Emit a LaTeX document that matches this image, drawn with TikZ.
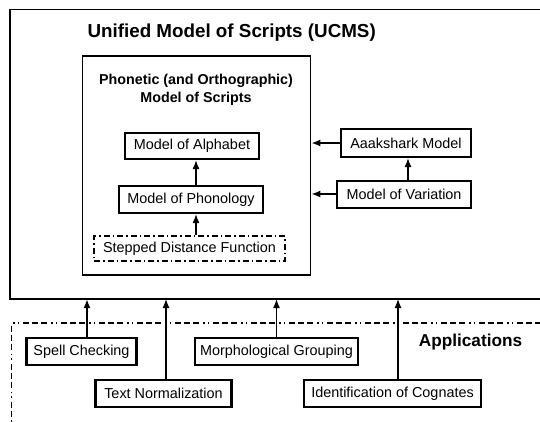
\documentclass[tikz,border=0pt]{standalone}
\usepackage{fontspec}
\setmainfont{Liberation Sans}
\usetikzlibrary{arrows.meta}
\begin{document}
\begin{tikzpicture}[x=1pt,y=-1pt,
  box/.style={draw,line width=2pt,rectangle,inner sep=0pt,font=\fontsize{14.4}{16}\selectfont},
  conn/.style={line width=1.5pt,-{Latex[length=9pt,width=7pt]}},
  thickconn/.style={line width=2.5pt,-{Latex[length=9pt,width=7pt]}},
  thinconn/.style={line width=1.2pt,-{Latex[length=9pt,width=7pt]}},
  appline/.style={line width=1.2pt,dash pattern=on 6pt off 3pt on 6pt off 3pt on 6pt off 4pt on 1.5pt off 3pt on 1.5pt off 4pt},
  dotbox/.style={draw,line width=1.5pt,rectangle,inner sep=0pt,font=\fontsize{14.4}{16}\selectfont,dash pattern=on 6pt off 3pt on 1.5pt off 3pt}]
\useasboundingbox (0,0) rectangle (540,421);
\fill[white] (0,0) rectangle (540,421);
% outer box (open on the right)
\coordinate (otr) at (541,9.5);
\coordinate (otl) at (10,9.5);
\coordinate (obl) at (10,299);
\coordinate (obr) at (541,299);
\draw[line width=1.8pt] (otr) -- (otl) -- (obl) -- (obr);
\node[anchor=west,font=\bfseries\fontsize{18.8}{20}\selectfont] (title) at (84,33) {Unified Model of Scripts (UCMS)};
% inner box
\node[draw,line width=1.6pt,minimum width=228pt,minimum height=219pt,inner sep=0pt] (phon) at (196.5,165.5) {};
\node[align=center,font=\bfseries\fontsize{14.3}{18}\selectfont] (phontxt) at (196,90) {Phonetic (and Orthographic)\\Model of Scripts};
\node[box,minimum width=134pt,minimum height=26pt] (alpha) at (192,146) {Model of Alphabet};
\node[box,minimum width=144pt,minimum height=27pt] (phono) at (191,199.5) {Model of Phonology};
\node[dotbox,minimum width=191pt,minimum height=25pt] (sdf) at (189.5,248.5) {Stepped Distance Function};
\draw[conn] (sdf.north -| 196,0) -- (phono.south -| 196,0);
\draw[conn] (phono.north -| 196,0) -- (alpha.south -| 196,0);
% right boxes
\node[box,minimum width=130pt,minimum height=28pt] (aak) at (406,143) {Aaakshark Model};
\node[box,minimum width=134pt,minimum height=27pt] (var) at (404,194.5) {Model of Variation};
\draw[conn] (var.north -| 408,0) -- (aak.south -| 408,0);
\draw[conn,line width=2pt] (aak.west) -- (phon.east |- aak.west);
\draw[conn,line width=2pt] (var.west |- 0,194) -- (phon.east |- 0,194);
% applications
\coordinate (atr) at (541,323);
\coordinate (atl) at (11.5,323);
\coordinate (abl) at (11.5,425);
\draw[appline] (atr) -- (atl) -- (abl);
\node[font=\bfseries\fontsize{17.2}{20}\selectfont] (apps) at (470.5,342) {Applications};
\node[box,line width=2.3pt,minimum width=110pt,minimum height=27pt] (spell) at (81.5,351.5) {Spell Checking};
\node[box,line width=2.3pt,minimum width=163pt,minimum height=27pt] (morph) at (276.5,351.5) {Morphological Grouping};
\node[box,line width=2.3pt,minimum width=136pt,minimum height=27pt] (textn) at (163.5,393.5) {Text Normalization};
\node[box,line width=2.3pt,minimum width=177pt,minimum height=27pt] (cogn) at (392.5,393.5) {Identification of Cognates};
\draw[thickconn] (spell.north -| 87,0) -- (87,299);
\draw[thinconn] (textn.north -| 166,0) -- (166,299);
\draw[conn] (morph.north -| 276.5,0) -- (276.5,299);
\draw[thinconn] (cogn.north -| 398,0) -- (398,299);
\end{tikzpicture}
\end{document}
